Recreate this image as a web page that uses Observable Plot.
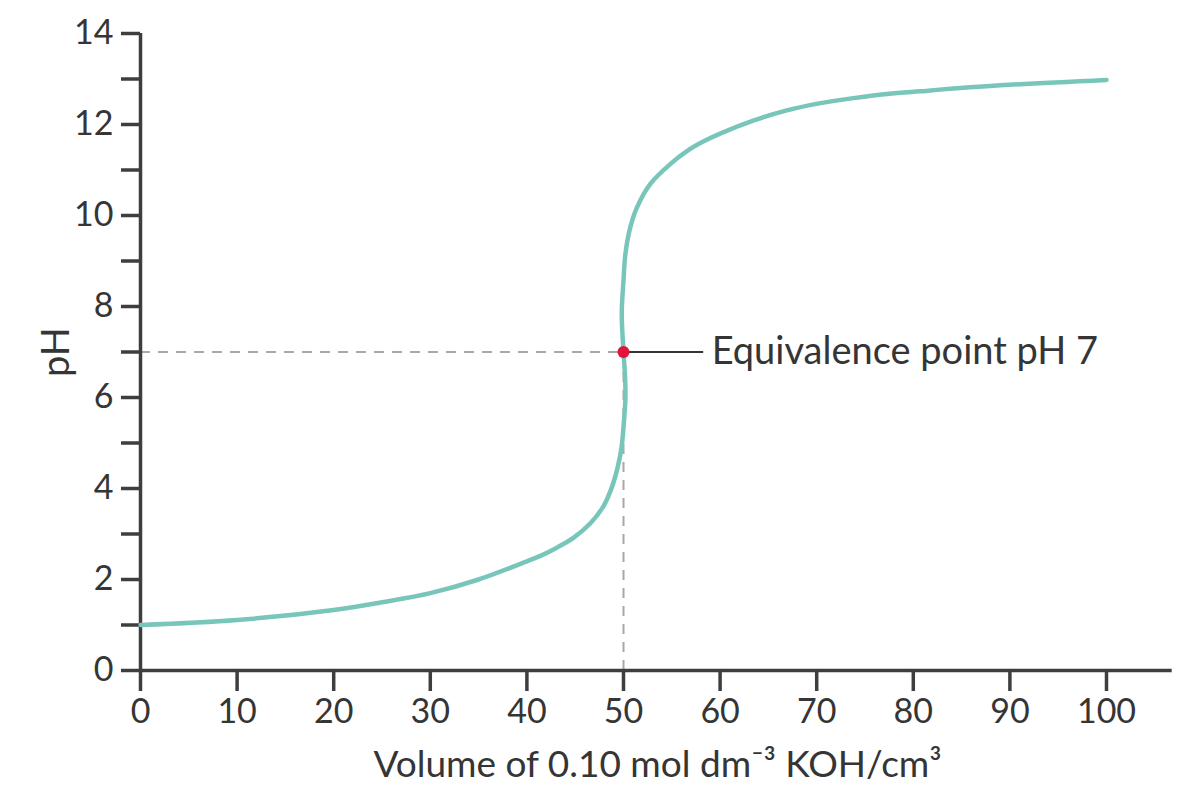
<!DOCTYPE html>
<html>
<head>
<meta charset="utf-8">
<script src="https://cdn.jsdelivr.net/npm/d3@7"></script>
<script src="https://cdn.jsdelivr.net/npm/@observablehq/plot@0.6"></script>
<style>
  html, body { margin: 0; padding: 0; background: #ffffff; }
  #chart { width: 1200px; height: 792px; }
</style>
</head>
<body>
<div id="chart"></div>
<script>
// Titration curve: volume of 0.10 mol dm-3 KOH added (cm3) vs pH
const volume = [0, 10, 20, 25, 30, 35, 40, 41.4, 43.1, 44.85, 46.6, 47.95, 48.8, 49.4, 49.8, 50.05, 50.2, 50.15, 50.0, 49.82, 50.0, 50.2, 50.7, 51.4, 52.8, 54.9, 56.6, 58.3, 60, 63.5, 66.9, 70.4, 73.8, 77.3, 80.7, 89, 100];
const pH = [1.0, 1.11, 1.33, 1.5, 1.7, 2.0, 2.4, 2.52, 2.70, 2.92, 3.24, 3.62, 4.03, 4.47, 4.91, 5.49, 6.0, 6.5, 7.0, 7.85, 8.57, 9.16, 9.74, 10.18, 10.7, 11.14, 11.42, 11.63, 11.8, 12.09, 12.31, 12.47, 12.58, 12.67, 12.73, 12.86, 12.98];

const xTicks = [0, 10, 20, 30, 40, 50, 60, 70, 80, 90, 100];
const yTicks = [0, 1, 2, 3, 4, 5, 6, 7, 8, 9, 10, 11, 12, 13, 14];
const yTickLabels = ["0", "", "2", "", "4", "", "6", "", "8", "", "10", "", "12", "", "14"];

const equivalenceVolume = 50;
const equivalencePH = 7;
const equivalenceLabel = "Equivalence point pH 7";
const leaderEnd = 58.3;
const xAxisEnd = 106.8;

const xTitle = "Volume of 0.10 mol dm\u207B\u00B3 KOH/cm\u00B3";
const yTitle = "pH";

const curve = volume.map((v, i) => ({volume: v, pH: pH[i]}));

const axisColor = "#3e3e3e";
const textColor = "#353535";

const chart = Plot.plot({
  width: 1200,
  height: 792,
  marginLeft: 140,
  marginRight: 94,
  marginTop: 33,
  marginBottom: 122,
  x: {domain: [0, 100]},
  y: {domain: [0, 14]},
  style: {
    background: "#ffffff",
    fontFamily: "Lato, 'Noto Sans', sans-serif",
    fontSize: "34px",
    color: textColor
  },
  marks: [
    // dashed guides at the equivalence point
    Plot.ruleY([equivalencePH], {x1: 0, x2: equivalenceVolume, stroke: "#a8a8a8", strokeWidth: 2, strokeDasharray: "10,8"}),
    Plot.ruleX([equivalenceVolume], {y1: 0, y2: equivalencePH, stroke: "#a8a8a8", strokeWidth: 2, strokeDasharray: "10,8"}),
    // axis lines
    Plot.ruleX([0], {y1: 0, y2: 14, stroke: axisColor, strokeWidth: 3.5}),
    Plot.ruleY([0], {x1: 0, x2: xAxisEnd, stroke: axisColor, strokeWidth: 3.5}),
    Plot.axisY({
      ticks: yTicks,
      tickSize: 19,
      tickPadding: 8,
      tickFormat: d => yTickLabels[yTicks.indexOf(d)],
      stroke: axisColor,
      strokeWidth: 3.5,
      fontSize: 34,
      label: null
    }),
    Plot.axisX({
      ticks: xTicks,
      tickSize: 21,
      tickPadding: 7,
      tickFormat: d => String(d),
      stroke: axisColor,
      strokeWidth: 3.5,
      fontSize: 34,
      label: null
    }),
    // the titration curve
    Plot.line(curve, {x: "volume", y: "pH", stroke: "#78c6ba", strokeWidth: 4.5, curve: "catmull-rom"}),
    // leader line + annotation
    Plot.ruleY([equivalencePH], {x1: equivalenceVolume, x2: leaderEnd, stroke: "#333333", strokeWidth: 2}),
    Plot.dot([{volume: equivalenceVolume, pH: equivalencePH}], {x: "volume", y: "pH", r: 6, fill: "#e0143c", stroke: "none"}),
    Plot.text([equivalenceLabel], {x: leaderEnd, y: equivalencePH, dx: 8, textAnchor: "start", fontSize: 38, fill: textColor}),
    // axis titles
    Plot.text([xTitle], {frameAnchor: "bottom", dy: 106, dx: 34, textAnchor: "middle", fontSize: 37, fill: textColor}),
    Plot.text([yTitle], {frameAnchor: "left", dx: -84, textAnchor: "middle", lineAnchor: "middle", rotate: -90, fontSize: 38, fill: textColor})
  ]
});

document.getElementById("chart").appendChild(chart);
</script>
</body>
</html>
